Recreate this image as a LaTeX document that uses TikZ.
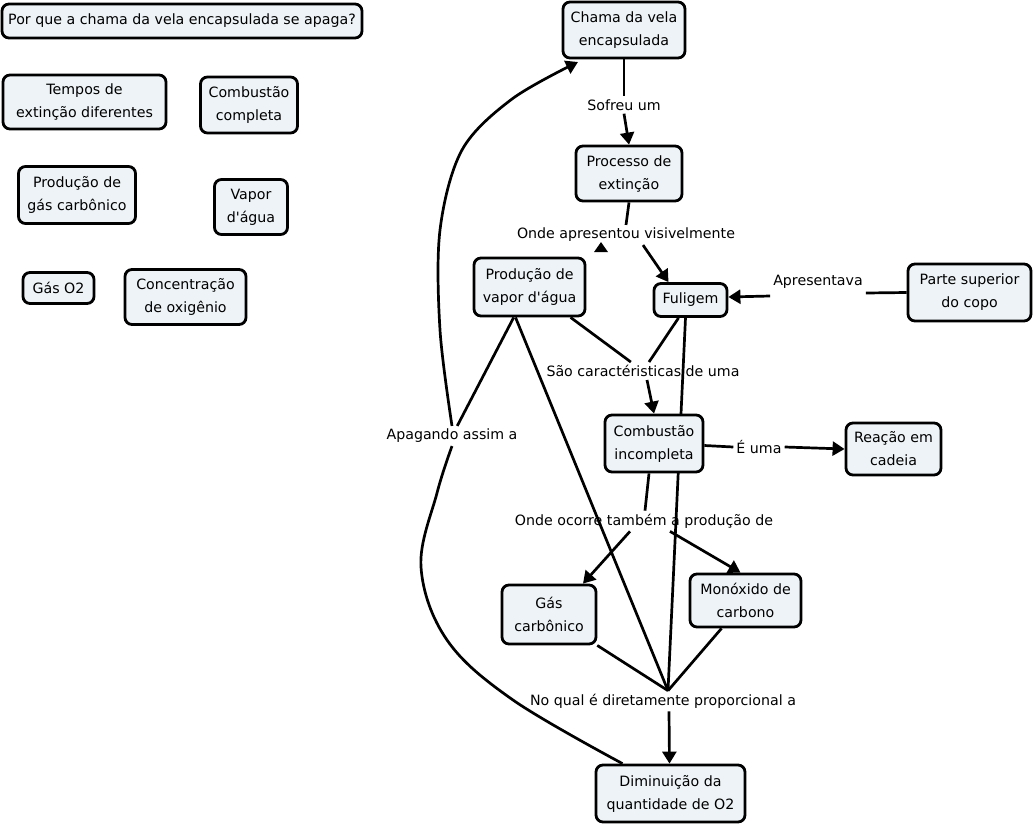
\documentclass[tikz,border=0pt]{standalone}
\usepackage{fontspec}
\setmainfont{DejaVu Sans}[Ligatures=TeXOff]
\usetikzlibrary{arrows.meta,calc}
\pgfdeclarelayer{back}
\pgfdeclarelayer{bg}
\pgfsetlayers{back,bg,main}
\definecolor{boxfill}{RGB}{237,243,246}
\begin{document}
\begin{tikzpicture}[x=1pt,y=-1pt,
  concept/.style={draw=black, line width=2.8pt, fill=boxfill, rounded corners=7pt,
    align=center, font=\fontsize{14.2}{23}\selectfont, inner sep=2pt},
  linklabel/.style={align=center, font=\fontsize{14.2}{23}\selectfont, inner sep=3pt},
  conn/.style={line width=2.7pt, draw=black},
  arr/.style={conn, -{Triangle[length=12pt,width=14pt]}}]
\begin{pgfonlayer}{back}
\fill[white] (0,0) rectangle (1036,825);
\end{pgfonlayer}
\useasboundingbox (0,0) rectangle (1036,825);

% free-standing concepts
\node[concept, minimum width=360pt, minimum height=34pt] (q) at (182,21) {Por que a chama da vela encapsulada se apaga?};
\node[concept, minimum width=163pt, minimum height=54pt] (tempos) at (84.5,102) {Tempos de\\extinção diferentes};
\node[concept, minimum width=97pt, minimum height=56pt] (ccomp) at (249,105) {Combustão\\completa};
\node[concept, minimum width=117pt, minimum height=57pt] (pgc) at (77,195) {Produção de\\gás carbônico};
\node[concept, minimum width=73pt, minimum height=55pt] (vapor) at (251,207) {Vapor\\d'água};
\node[concept, minimum width=71pt, minimum height=31pt] (o2) at (58.5,288) {Gás O2};
\node[concept, minimum width=121pt, minimum height=55pt] (conc) at (185.5,297) {Concentração\\de oxigênio};

% map concepts
\node[concept, minimum width=122pt, minimum height=56pt] (chama) at (624,30) {Chama da vela\\encapsulada};
\node[concept, minimum width=106pt, minimum height=55pt] (proc) at (629,173.5) {Processo de\\extinção};
\node[concept, minimum width=111pt, minimum height=58pt] (pv) at (529.5,287) {Produção de\\vapor d'água};
\node[concept, minimum width=73pt, minimum height=33pt] (fulig) at (690.5,300) {Fuligem};
\node[concept, minimum width=123pt, minimum height=57pt] (parte) at (969.5,292.5) {Parte superior\\do copo};
\node[concept, minimum width=98pt, minimum height=57pt] (cinc) at (654,443.5) {Combustão\\incompleta};
\node[concept, minimum width=95pt, minimum height=52pt] (reac) at (893.5,449) {Reação em\\cadeia};
\node[concept, minimum width=94pt, minimum height=59pt] (gc) at (549,614.5) {Gás\\carbônico};
\node[concept, minimum width=111pt, minimum height=53pt] (mono) at (745.5,600.5) {Monóxido de\\carbono};
\node[concept, minimum width=149pt, minimum height=57pt] (dim) at (670.5,793.5) {Diminuição da\\quantidade de O2};

% link labels
\node[linklabel] (sofreu) at (624,105) {Sofreu um};
\node[linklabel] (ondeap) at (626,235) {Onde apresentou visivelmente};
\node[linklabel] (apres) at (818,282) {Apresentava};
\node[linklabel] (sao) at (643,371) {São caractéristicas de uma};
\node[linklabel] (euma) at (759,447) {É uma};
\node[linklabel] (ondeoc) at (644,521) {Onde ocorre também a produção de};
\node[linklabel] (apag) at (452,436) {Apagando assim a};
\node[linklabel] (noqual) at (663,701) {No qual é diretamente proporcional a};

\coordinate (meet) at ([xshift=5pt]noqual.north);

\begin{pgfonlayer}{bg}
\draw[conn] (chama.south) -- (sofreu.north);
\draw[arr] (sofreu.south) -- (proc.north);
\draw[conn] (proc.south) -- (ondeap.north);
\draw[arr] ([xshift=17pt]ondeap.south) -- ([xshift=-22pt]fulig.north);
% arrowhead of the link from Produção de vapor d'água, drawn right under the label
\fill ($(ondeap.south)+(-25,-3)$) -- ++(-7,10) -- ++(14,0) -- cycle;
\draw[conn] (parte.west) -- ([yshift=-11pt]apres.east);
\draw[arr] ([yshift=-14pt]apres.west) -- ([yshift=3pt]fulig.east);
\draw[conn] (pv) -- (sao);
\draw[conn] (fulig) -- (sao);
\draw[arr] ([xshift=4pt]sao.south) -- (cinc.north);
\draw[conn] ([yshift=-2pt]cinc.east) -- (euma.west);
\draw[arr] (euma.east) -- (reac.west);
\draw[conn] ([xshift=-5pt]cinc.south) -- ([xshift=1pt]ondeoc.north);
\draw[arr] ([xshift=-14pt]ondeoc.south) -- ([xshift=34pt]gc.north);
\draw[arr] ([xshift=26pt]ondeoc.south) -- ([xshift=-5pt]mono.north);
\draw[conn] (gc) -- (meet);
\draw[conn] (mono) -- (meet);
\draw[conn] ([xshift=-14pt]pv.south) -- (meet);
\draw[conn] ([xshift=-5pt]fulig.south) -- (meet);
\draw[arr] ([xshift=6pt]noqual.south) -- ([xshift=-1pt]dim.north);
\draw[conn] (pv) -- (apag);
\draw[conn] plot[smooth, tension=0.6] coordinates {([xshift=-48pt]dim.north) (513,700) (447,640) (421,567) (437,493) (apag.south)};
\draw[arr] plot[smooth, tension=0.55] coordinates {(apag.north) (440,330) (440,230) (462,150) (512,99) (578,62)};
\end{pgfonlayer}
\end{tikzpicture}
\end{document}
